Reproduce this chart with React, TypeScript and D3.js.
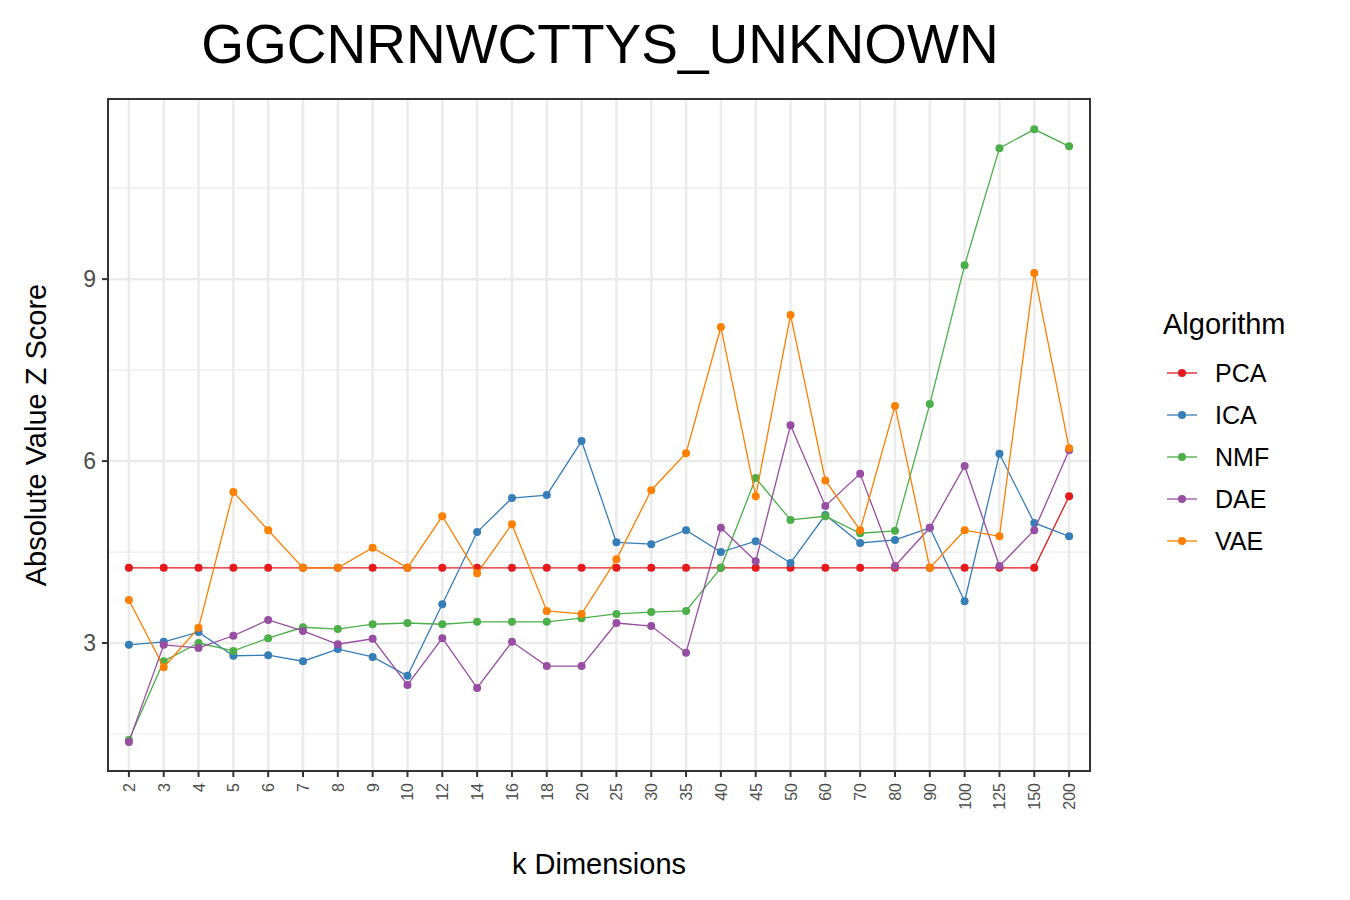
import React from "react";
import * as d3 from "d3";

const dims = ["2","3","4","5","6","7","8","9","10","12","14","16","18","20","25","30","35","40","45","50","60","70","80","90","100","125","150","200"];
const pca = [4.24,4.24,4.24,4.24,4.24,4.24,4.24,4.24,4.24,4.24,4.24,4.24,4.24,4.24,4.24,4.24,4.24,4.24,4.24,4.24,4.24,4.24,4.24,4.24,4.24,4.24,4.24,5.42];
const ica = [2.97,3.02,3.18,2.79,2.8,2.7,2.9,2.77,2.46,3.64,4.83,5.39,5.44,6.33,4.66,4.63,4.86,4.5,4.68,4.32,5.11,4.65,4.7,4.9,3.69,6.12,4.98,4.76];
const nmf = [1.4,2.7,3.0,2.87,3.08,3.26,3.23,3.31,3.33,3.31,3.35,3.35,3.35,3.41,3.48,3.51,3.53,4.24,5.72,5.03,5.09,4.81,4.85,6.94,9.23,11.16,11.47,11.19];
const dae = [1.37,2.97,2.92,3.12,3.38,3.2,2.98,3.07,2.31,3.08,2.26,3.02,2.62,2.62,3.33,3.28,2.84,4.9,4.35,6.59,5.26,5.79,4.27,4.9,5.92,4.27,4.86,6.18];
const vae = [3.71,2.6,3.25,5.49,4.86,4.24,4.24,4.57,4.24,5.09,4.15,4.96,3.53,3.48,4.38,5.52,6.13,8.21,5.42,8.41,5.68,4.86,6.91,4.24,4.86,4.76,9.1,6.21];
const yTicks = [3, 6, 9];
const yMinor = [1.5, 4.5, 7.5, 10.5];

const series = [
  { name: "PCA", color: "#e41a1c", values: pca },
  { name: "ICA", color: "#377eb8", values: ica },
  { name: "NMF", color: "#4daf4a", values: nmf },
  { name: "DAE", color: "#984ea3", values: dae },
  { name: "VAE", color: "#ff7f00", values: vae },
];

export default function App() {
  const L = 108, R = 1090, T = 99, B = 771;
  const x = d3.scalePoint<string>().domain(dims).range([L, R]).padding(0.6);
  const y = d3.scaleLinear().domain([0.89, 11.97]).range([B, T]);
  const line = d3.line<number>().x((_, i) => x(dims[i])!).y((d) => y(d));
  const font = "Liberation Sans, Arial, sans-serif";
  return (
    <svg width={1334} height={884} style={{ display: "block" }} fontFamily={font}>
      <rect x={0} y={0} width={1334} height={884} fill="#fff" />
      <g transform="translate(-8,-8)">
        <text x={600} y={63} fontSize={55} textAnchor="middle">GGCNRNWCTTYS_UNKNOWN</text>
        {yMinor.map((t) => (
          <line key={t} x1={L} x2={R} y1={y(t)} y2={y(t)} stroke="#ebebeb" strokeWidth={1.2} />
        ))}
        {yTicks.map((t) => (
          <line key={t} x1={L} x2={R} y1={y(t)} y2={y(t)} stroke="#ebebeb" strokeWidth={2.5} />
        ))}
        {dims.map((d) => (
          <line key={d} x1={x(d)} x2={x(d)} y1={T} y2={B} stroke="#ebebeb" strokeWidth={2.5} />
        ))}
        {series.map((s) => (
          <g key={s.name}>
            <path d={line(s.values)!} fill="none" stroke={s.color} strokeWidth={1.3} />
            {s.values.map((v, i) => (
              <circle key={i} cx={x(dims[i])} cy={y(v)} r={4} fill={s.color} />
            ))}
          </g>
        ))}
        <rect x={L} y={T} width={R - L} height={B - T} fill="none" stroke="#333" strokeWidth={2} />
        {yTicks.map((t) => (
          <g key={t}>
            <line x1={L - 6} x2={L} y1={y(t)} y2={y(t)} stroke="#333" strokeWidth={2} />
            <text x={L - 12} y={y(t) + 8} fontSize={23} fill="#4d4d4d" textAnchor="end">{t}</text>
          </g>
        ))}
        {dims.map((d) => (
          <g key={d}>
            <line x1={x(d)} x2={x(d)} y1={B} y2={B + 6} stroke="#333" strokeWidth={2} />
            <text transform={`translate(${x(d)! + 6},${B + 12}) rotate(-90)`} fontSize={16} fill="#4d4d4d" textAnchor="end">{d}</text>
          </g>
        ))}
        <text x={599} y={874} fontSize={29} textAnchor="middle">k Dimensions</text>
        <text transform={`translate(46,435) rotate(-90)`} fontSize={29} textAnchor="middle">Absolute Value Z Score</text>
        <text x={1163} y={334} fontSize={29}>Algorithm</text>
        {series.map((s, i) => (
          <g key={s.name} transform={`translate(0,${373 + i * 42})`}>
            <line x1={1167} x2={1197} y1={0} y2={0} stroke={s.color} strokeWidth={1.3} />
            <circle cx={1182} cy={0} r={4} fill={s.color} />
            <text x={1215} y={9} fontSize={25}>{s.name}</text>
          </g>
        ))}
      </g>
    </svg>
  );
}
